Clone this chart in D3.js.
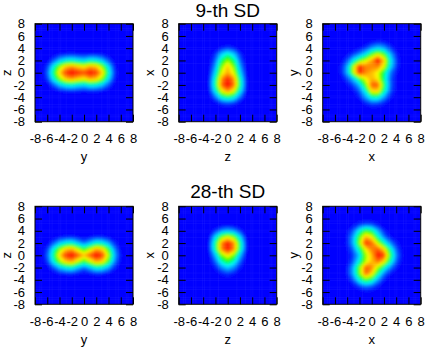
<!DOCTYPE html>
<html>
<head>
<meta charset="utf-8">
<style>
  html, body { margin: 0; padding: 0; background: #fff; }
  text { font-family: "Liberation Sans", sans-serif; fill: #000; }
  .domain { display: none; }
  .tick line { stroke: #000; }
</style>
<script src="https://cdn.jsdelivr.net/npm/d3@7"></script>
</head>
<body>
<script>
//DATA: density, 0 (blue) to 10 (red)
// rows run from +6 down to -6, columns from -6 to +6

var titles = ["9-th SD", "28-th SD"];
var xLabels = ["y", "z", "x"];
var yLabels = ["z", "x", "y"];
var tickValues = [-8, -6, -4, -2, 0, 2, 4, 6, 8];
var meshLines = [-7.2, -6.9, -5.6, -5.2, -4.1, -3.8, -2.9, -1.5, 1.5, 2.9, 3.8, 4.1, 5.2, 5.6, 6.9, 7.2];

var sd9yz = [
  [0,0,0,0,0,0,0,0,0,0,0,0,0],
  [0,0,0,0,0,0,0,0,0,0,0,0,0],
  [0,0,0,0,.05,0,0,0,.05,0,0,0,0],
  [0,.1,.3,.4,.5,.4,.3,.4,.4,.3,.1,0,0],
  [.2,1,2.2,3,3.3,2.8,2.5,3.2,3,2.2,1,.2,0],
  [.7,3,5.6,7.4,8,7.3,6.8,7.8,7.4,5.6,2.6,.4,0],
  [1,4,7.2,9.2,10,9.4,9,9.8,9.2,7.2,3.5,.6,.1],
  [.7,3,5.6,7.4,8,7.3,6.8,7.8,7.4,5.6,2.6,.4,0],
  [.2,1,2.2,3,3.3,2.8,2.5,3.2,3,2.2,1,.2,0],
  [0,.1,.3,.4,.5,.4,.3,.4,.4,.3,.1,0,0],
  [0,0,0,0,.05,0,0,0,.05,0,0,0,0],
  [0,0,0,0,0,0,0,0,0,0,0,0,0],
  [0,0,0,0,0,0,0,0,0,0,0,0,0]
];
var sd9zx = [
  [0,0,0,0,0,0,0,0,0,0,0,0,0],
  [0,0,0,0,0,0,0,0,0,0,0,0,0],
  [0,0,0,0,.15,.5,.8,.5,.15,0,0,0,0],
  [0,0,0,.05,.7,2.4,3.5,2.4,.7,.05,0,0,0],
  [0,0,0,.1,1.2,4,5.8,4,1.2,.1,0,0,0],
  [0,0,0,.2,1.8,5.5,7.4,5.5,1.8,.2,0,0,0],
  [0,0,0,.25,2.6,6.4,7.8,6.4,2.6,.25,0,0,0],
  [0,0,0,.35,3.6,8,9.5,8,3.6,.35,0,0,0],
  [0,0,0,.4,4,8.5,10,8.5,4,.4,0,0,0],
  [0,0,0,.3,3,6.6,8,6.6,3,.3,0,0,0],
  [0,0,0,.1,1.3,3.2,4,3.2,1.3,.1,0,0,0],
  [0,0,0,0,.2,.6,.8,.6,.2,0,0,0,0],
  [0,0,0,0,0,.05,.1,.05,0,0,0,0,0]
];
var sd9xy = [
  [0,0,0,0,0,0,0,0,0,0,0,0,0],
  [0,0,0,0,0,.1,.3,.5,.4,.2,0,0,0],
  [0,0,0,.1,.3,.8,1.7,2.4,1.9,.9,.2,0,0],
  [0,0,.3,.8,1.6,2.8,5,6.4,5.1,2.2,.5,.1,0],
  [0,.2,1,2.8,4.8,6.3,7.8,10,7.4,3.2,.8,.1,0],
  [.05,.4,1.9,6,9.6,8.3,8.2,8.3,6.5,2.8,.7,.1,0],
  [.05,.4,2,6,9.6,8.2,7.5,6.5,4.1,1.5,.4,.05,0],
  [0,.2,.9,2.3,4.6,6.6,7.6,6.8,3.8,1.2,.2,0,0],
  [0,0,.3,.9,2.2,5,8.8,8.8,4.5,1.3,.2,0,0],
  [0,0,0,.3,1.1,3.2,7,7.2,3.8,1.1,.2,0,0],
  [0,0,0,.1,.5,1.8,3.4,3.5,1.8,.5,.1,0,0],
  [0,0,0,0,.1,.5,.9,.8,.5,.1,0,0,0],
  [0,0,0,0,0,0,.1,.1,0,0,0,0,0]
];
var sd28yz = [
  [0,0,0,0,0,0,0,0,0,0,0,0,0],
  [0,0,0,0,0,0,0,0,0,0,0,0,0],
  [0,0,0,0,.05,0,0,0,.05,0,0,0,0],
  [0,.1,.3,.4,.5,.3,.15,.3,.5,.4,.2,.1,0],
  [.2,1,2.2,3,3.3,2.2,1.3,2.2,3.3,3,1.9,.6,.1],
  [.7,3,5.6,7.3,7.8,6.2,4.6,6.2,7.8,7.2,4.7,1.5,.2],
  [1,3.8,7.2,9.3,10,8.8,7.5,8.8,10,9.2,6,2,.3],
  [.7,3,5.6,7.3,7.8,6.2,4.6,6.2,7.8,7.2,4.7,1.5,.2],
  [.2,1,2.2,3,3.3,2.2,1.3,2.2,3.3,3,1.9,.6,.1],
  [0,.1,.3,.4,.5,.3,.15,.3,.5,.4,.2,.1,0],
  [0,0,0,0,.05,0,0,0,.05,0,0,0,0],
  [0,0,0,0,0,0,0,0,0,0,0,0,0],
  [0,0,0,0,0,0,0,0,0,0,0,0,0]
];
var sd28zx = [
  [0,0,0,0,0,0,0,0,0,0,0,0,0],
  [0,0,0,0,0,.05,.1,.05,0,0,0,0,0],
  [0,0,0,.05,.7,1.6,2,1.6,.7,.05,0,0,0],
  [0,0,0,.25,2.6,5.4,6.5,5.4,2.6,.25,0,0,0],
  [0,0,0,.4,4,8.2,9.7,8.2,4,.4,0,0,0],
  [0,0,0,.4,3.9,8.2,9.7,8.2,3.9,.4,0,0,0],
  [0,0,0,.2,2.2,5.4,7,5.4,2.2,.2,0,0,0],
  [0,0,0,.1,1.2,3.4,4.6,3.4,1.2,.1,0,0,0],
  [0,0,0,.05,.5,1.6,2.4,1.6,.5,.05,0,0,0],
  [0,0,0,0,.1,.4,.7,.4,.1,0,0,0,0],
  [0,0,0,0,0,.05,.1,.05,0,0,0,0,0],
  [0,0,0,0,0,0,0,0,0,0,0,0,0],
  [0,0,0,0,0,0,0,0,0,0,0,0,0]
];
var sd28xy = [
  [0,0,0,0,.1,.1,.1,.1,0,0,0,0,0],
  [0,0,0,.3,.7,1,.9,.4,.1,0,0,0,0],
  [0,0,.3,1.1,3.1,4.8,4,2,.5,.1,0,0,0],
  [0,0,.4,1.9,5,7.7,6.7,3.6,1.4,.4,.1,0,0],
  [0,.05,.4,2.1,5.7,9.4,8.7,6.1,3.6,1.6,.5,.1,0],
  [0,0,.3,1.3,3.8,6.7,8.3,8.8,7.1,3.7,1.1,.2,0],
  [0,0,.2,.8,2.4,5.7,7.5,9.9,9.1,4.8,1.5,.3,0],
  [0,0,.2,1.1,3.3,6,7.5,8.5,7,3.7,1.1,.2,0],
  [0,.05,.4,2,5.3,8.8,8.3,5.9,3.5,1.6,.5,.1,0],
  [0,0,.4,2,5.3,8.6,7.1,3.8,1.4,.4,.1,0,0],
  [0,0,.2,1.1,3.3,5,4,1.8,.5,.1,0,0,0],
  [0,0,0,.3,.9,1.4,1.1,.5,.1,0,0,0,0],
  [0,0,0,0,.1,.2,.2,.1,0,0,0,0,0]
];

var grids = [sd9yz, sd9zx, sd9xy, sd28yz, sd28zx, sd28xy];

// SET PAGE

var width = 436,
  height = 363,
  size = 98;

var columnLeft = [35, 178.7, 322.7];
var rowTop = [23.7, 206.3];
var titleBase = [17.2, 198];

var svg = d3.select("body")
  .append("svg")
  .attr("width", width)
  .attr("height", height)
  .style("display", "block");

var defs = svg.append("defs");
defs.append("filter")
  .attr("id", "soft")
  .attr("x", "-10%").attr("y", "-10%").attr("width", "120%").attr("height", "120%")
  .append("feGaussianBlur")
  .attr("stdDeviation", 1.4);
defs.append("clipPath")
  .attr("id", "frame")
  .append("rect")
  .attr("width", size)
  .attr("height", size);

var x = d3.scaleLinear().domain([-8, 8]).range([0, size]);
var y = d3.scaleLinear().domain([-8, 8]).range([size, 0]);

var color = d3.scaleLinear()
  .domain([0, 0.4, 1.4, 3, 4.6, 6.6, 9.6])
  .range(["#0000ff", "#0010ff", "#0080ff", "#00ffff", "#00ff00", "#ffff00", "#ff1800"])
  .clamp(true);

var levels = d3.range(0.05, 10.2, 0.1);

var contours = d3.contours().size([13, 13]).thresholds(levels).smooth(true);

// contour coordinates sit half a cell off the grid points
var path = d3.geoPath(d3.geoTransform({
  point: function (px, py) {
    this.stream.point(x(px - 6.5), y(6.5 - py));
  }
}));

var tickLabel = function (d) { return String(d); };

// DRAW PANELS

grids.forEach(function (grid, i) {
  var col = i % 3,
    row = Math.floor(i / 3);

  var g = svg.append("g")
    .attr("transform", "translate(" + columnLeft[col] + "," + rowTop[row] + ")");

  var plot = g.append("g").attr("clip-path", "url(#frame)");

  plot.append("rect")
    .attr("width", size)
    .attr("height", size)
    .attr("fill", color(0));

  plot.append("g")
    .attr("filter", "url(#soft)")
    .selectAll("path")
    .data(contours(d3.merge(grid)))
    .enter().append("path")
    .attr("d", path)
    .attr("fill", function (d) { return color(d.value); });

  // faint mesh streaks of the original surface
  plot.selectAll("line.v")
    .data(meshLines)
    .enter().append("line")
    .attr("class", "v")
    .attr("x1", function (d) { return x(d); })
    .attr("x2", function (d) { return x(d); })
    .attr("y2", size)
    .attr("stroke", "#fff")
    .attr("stroke-opacity", 0.04);

  plot.selectAll("line.h")
    .data(meshLines)
    .enter().append("line")
    .attr("class", "h")
    .attr("y1", function (d) { return y(d); })
    .attr("y2", function (d) { return y(d); })
    .attr("x2", size)
    .attr("stroke", "#fff")
    .attr("stroke-opacity", 0.04);

  // axes, mirrored on all four sides like the original
  g.append("g")
    .attr("transform", "translate(0," + size + ")")
    .call(d3.axisBottom(x).tickValues(tickValues).tickSize(-7).tickPadding(12).tickFormat(tickLabel))
    .attr("font-size", null).attr("font-family", null)
    .selectAll("text").style("font-size", "13px");

  g.append("g")
    .call(d3.axisLeft(y).tickValues(tickValues).tickSize(-7).tickPadding(10).tickFormat(tickLabel))
    .attr("font-size", null).attr("font-family", null)
    .selectAll("text").style("font-size", "13px");

  g.append("g")
    .call(d3.axisTop(x).tickValues(tickValues).tickSize(-7).tickFormat(""));

  g.append("g")
    .attr("transform", "translate(" + size + ",0)")
    .call(d3.axisRight(y).tickValues(tickValues).tickSize(-7).tickFormat(""));

  g.append("rect")
    .attr("width", size)
    .attr("height", size)
    .attr("fill", "none")
    .attr("stroke", "#000")
    .attr("stroke-width", 1);

  g.append("text")
    .attr("x", size / 2)
    .attr("y", size + 39.5)
    .attr("text-anchor", "middle")
    .style("font-size", "13px")
    .text(xLabels[col]);

  g.append("text")
    .attr("transform", "translate(-24.5," + (size / 2) + ") rotate(-90)")
    .attr("text-anchor", "middle")
    .style("font-size", "13px")
    .text(yLabels[col]);
});

titles.forEach(function (title, i) {
  svg.append("text")
    .attr("x", columnLeft[1] + size / 2)
    .attr("y", titleBase[i])
    .attr("text-anchor", "middle")
    .style("font-size", "19px")
    .text(title);
});
</script>
</body>
</html>
